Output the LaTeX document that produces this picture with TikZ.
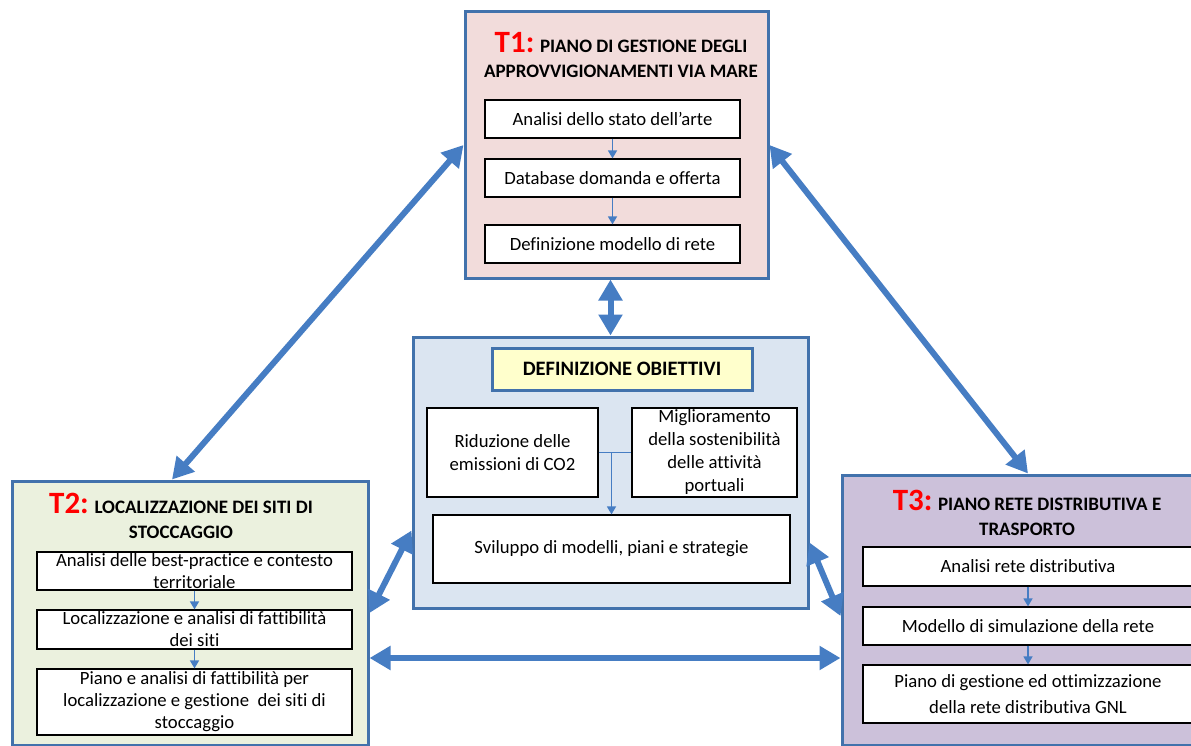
\documentclass[tikz,border=0pt]{standalone}
\usepackage{fontspec}
\setmainfont{Carlito}[Ligatures=NoCommon]
\usetikzlibrary{arrows.meta}
\definecolor{bordo}{RGB}{66,114,172}
\definecolor{freccia}{RGB}{70,125,195}
\definecolor{rosaT}{RGB}{242,220,219}
\definecolor{verdeT}{RGB}{235,241,222}
\definecolor{lillaT}{RGB}{204,193,218}
\definecolor{celesteT}{RGB}{219,229,241}
\definecolor{gialloT}{RGB}{255,255,204}
\tikzset{task/.style = {draw=bordo, line width=3pt, rectangle, inner sep=0pt},
         tbox/.style = {draw, fill=white, line width=1.2pt, rectangle, inner sep=0pt, align=center, font=\fontsize{18.7}{23}\selectfont},
         ttext/.style = {align=center, inner sep=0pt, font=\fontsize{18.7}{22}\selectfont},
         ttitle/.style = {align=center, inner sep=0pt, font=\bfseries\fontsize{19}{25}\selectfont},
         bigarrow/.style = {{Triangle[length=21pt,width=23pt]}-{Triangle[length=21pt,width=23pt]}, line width=6pt, freccia},
         smallarrow/.style = {-{Triangle[length=8pt,width=9pt]}, line width=1.5pt, freccia}}
\newcommand{\tnum}[1]{{\color{red}\fontsize{31}{31}\selectfont #1}}

\begin{document}
\begin{tikzpicture}[x=1pt,y=-1pt]
        \useasboundingbox (0,0) rectangle (1191,746);
        % T1
        \node[task, fill=rosaT, minimum width=303pt, minimum height=266pt](t1)at(616.5,145){};
        \node[ttitle](t1tit)at(621,55){\tnum{T1:} PIANO DI GESTIONE DEGLI\\APPROVVIGIONAMENTI VIA MARE};
        \node[tbox, minimum width=255pt, minimum height=38pt](b11)at(612.5,119){Analisi dello stato dell'arte};
        \node[tbox, minimum width=255pt, minimum height=38pt](b12)at(612.5,178){Database domanda e offerta};
        \node[tbox, minimum width=255pt, minimum height=38pt](b13)at(612.5,244){Definizione modello di rete};
        \draw[smallarrow](b11)--(b12);
        \draw[smallarrow](b12)--(b13);
        % obiettivi
        \node[task, fill=celesteT, minimum width=395pt, minimum height=271pt](ctr)at(610.5,472.5){};
        \node[task, fill=gialloT, minimum width=260pt, minimum height=42pt, font=\bfseries\fontsize{20.5}{22}\selectfont](obj)at(622,369){DEFINIZIONE OBIETTIVI};
        \node[tbox, minimum width=171pt, minimum height=89pt](rid)at(512.5,452.5){Riduzione delle\\emissioni di CO2};
        \node[tbox, minimum width=165pt, minimum height=89pt](mig)at(714.5,452.5){};
        \node[ttext, font=\fontsize{18.7}{23}\selectfont](migt)at(mig){Miglioramento\\della sostenibilità\\delle attività\\portuali};
        \node[tbox, minimum width=357pt, minimum height=68pt](svi)at(611.5,549){Sviluppo di modelli, piani e strategie};
        \draw[freccia, line width=1.5pt](rid.east)--(mig.west);
        \draw[smallarrow](svi.north |- rid.east)--(svi.north);
        % T2
        \node[task, fill=verdeT, minimum width=356pt, minimum height=264pt](t2)at(190,613){};
        \node[ttitle](t2tit)at(181,516){\tnum{T2:} LOCALIZZAZIONE DEI SITI DI\\STOCCAGGIO};
        \node[tbox, minimum width=315pt, minimum height=38pt](b21)at(194.5,571){};
        \node[ttext](b21t)at(b21){Analisi delle best-practice e contesto\\territoriale};
        \node[tbox, minimum width=315pt, minimum height=39pt](b22)at(194.5,629.5){};
        \node[ttext](b22t)at(b22){Localizzazione e analisi di fattibilità\\dei siti};
        \node[tbox, minimum width=315pt, minimum height=66pt](b23)at(194.5,702){};
        \node[ttext](b23t)at(b23){Piano e analisi di fattibilità per\\localizzazione e gestione\ \ dei siti di\\stoccaggio};
        \draw[smallarrow](b21)--(b22);
        \draw[smallarrow](b22)--(b23);
        % T3
        \node[task, fill=lillaT, minimum width=356pt, minimum height=270pt](t3)at(1020,610){};
        \node[ttitle](t3tit)at(1027,513){\tnum{T3:} PIANO RETE DISTRIBUTIVA E\\TRASPORTO};
        \node[tbox, minimum width=330pt, minimum height=39pt](b31)at(1028,566.5){Analisi rete distributiva};
        \node[tbox, minimum width=330pt, minimum height=38pt](b32)at(1028,626){Modello di simulazione della rete};
        \node[tbox, minimum width=330pt, minimum height=58pt, font=\fontsize{18.7}{26}\selectfont](b33)at(1028,694){Piano di gestione ed ottimizzazione\\della rete distributiva GNL};
        \draw[smallarrow](b31)--(b32);
        \draw[smallarrow](b32)--(b33);
        % collegamenti
        \coordinate(hl)at(600,658);
        \draw[bigarrow](t1.west)--([xshift=-18pt]t2.north);
        \draw[bigarrow](t1.east)--([xshift=8pt]t3.north);
        \draw[bigarrow](ctr.north |- t1.south)--(ctr.north);
        \draw[bigarrow]([yshift=-58pt]ctr.west)--(t2.east);
        \draw[bigarrow]([yshift=-70pt]ctr.east)--([yshift=-6pt]t3.west);
        \draw[bigarrow](t2.east |- hl)--(t3.west |- hl);
    \end{tikzpicture}
\end{document}
